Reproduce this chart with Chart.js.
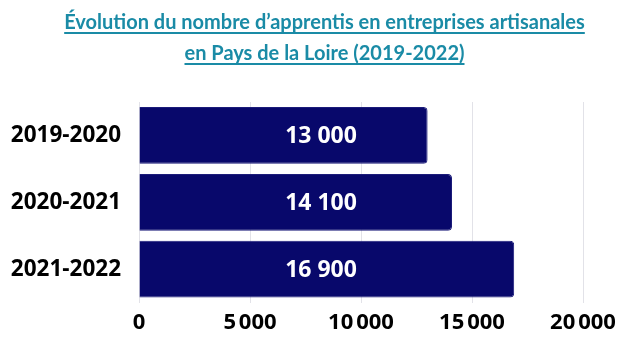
<!DOCTYPE html>
<html><head><meta charset="utf-8">
<script src="https://cdn.jsdelivr.net/npm/chart.js@4/dist/chart.umd.min.js"></script>
<style>
html,body{margin:0;padding:0;background:#fff;width:629px;height:353px;overflow:hidden;font-family:'Open Sans',sans-serif}
#title{position:absolute;left:10px;top:6px;width:629px;text-align:center;font-family:Lato,'Open Sans',sans-serif;font-weight:700;font-size:20px;line-height:31px;color:#1a8ba6;text-decoration:underline;text-underline-offset:3px;text-decoration-thickness:1.5px}
#wrap{position:absolute;left:0;top:0;width:629px;height:353px}
</style></head>
<body>
<div id="wrap"><canvas id="c" width="629" height="353"></canvas></div>
<div id="title">Évolution du nombre d’apprentis en entreprises artisanales<br>en Pays de la Loire (2019-2022)</div>
<script>
const categories = ['2019-2020', '2020-2021', '2021-2022'];
const apprentis = [13000, 14100, 16900];
const valueLabels = ['13 000', '14 100', '16 900'];
const xTicks = [0, 5000, 10000, 15000, 20000];

const FAMILY = '"Open Sans", sans-serif';
const fmt = v => v === 0 ? '0' : String(v).replace(/\B(?=(\d{3})+(?!\d))/g, '\u202F');

const labelPlugin = {
  id: 'valueLabels',
  afterDatasetsDraw(chart) {
    const {ctx, scales:{x}} = chart;
    const meta = chart.getDatasetMeta(0);
    ctx.save();
    ctx.fillStyle = '#ffffff';
    ctx.font = '700 23px ' + FAMILY;
    ctx.textAlign = 'center';
    ctx.textBaseline = 'middle';
    meta.data.forEach((bar, i) => {
      ctx.fillText(valueLabels[i], x.getPixelForValue(8200), bar.y + 1);
    });
    ctx.restore();
  }
};

new Chart(document.getElementById('c'), {
  type: 'bar',
  data: {
    labels: categories,
    datasets: [{
      data: apprentis,
      backgroundColor: '#08086b',
      borderColor: '#1c1c7a',
      borderWidth: 1,
      borderRadius: 4,
      borderSkipped: 'start',
      barPercentage: 0.85,
      categoryPercentage: 1
    }]
  },
  options: {
    indexAxis: 'y',
    responsive: false,
    animation: false,
    devicePixelRatio: 1,
    layout: {padding: {left: 0, right: 46, top: 102, bottom: 10}},
    plugins: {legend: {display: false}, tooltip: {enabled: false}, title: {display: false}},
    scales: {
      x: {
        min: 0, max: 20000,
        afterBuildTicks: ax => { ax.ticks = xTicks.map(v => ({value: v})); },
        grid: {color: '#e2e2e8', drawTicks: false, lineWidth: 1},
        border: {display: false},
        ticks: {color: '#000', padding: 7, font: {family: FAMILY, weight: '700', size: 22}, callback: v => fmt(v), maxRotation: 0}
      },
      y: {
        afterFit: ax => { ax.width = 139; },
        grid: {display: false, drawTicks: false},
        border: {display: false},
        ticks: {color: '#000', padding: 18, font: {family: FAMILY, weight: '700', size: 22.5}}
      }
    }
  },
  plugins: [labelPlugin]
});
</script>
</body></html>
